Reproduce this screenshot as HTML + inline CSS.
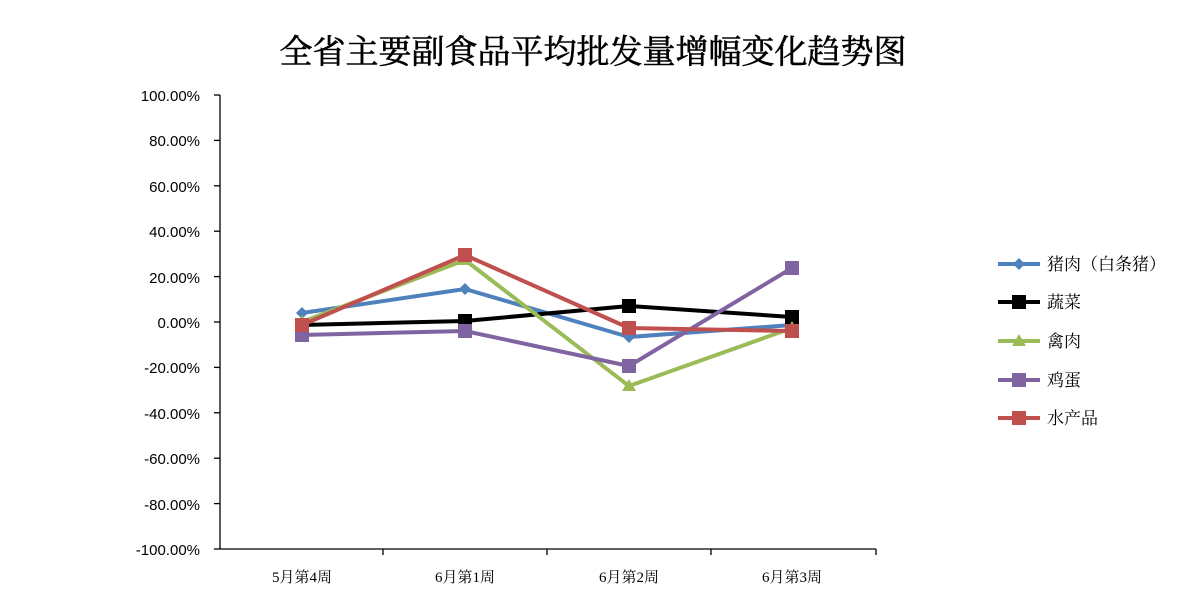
<!DOCTYPE html>
<html><head><meta charset="utf-8"><style>
body{margin:0;background:#fff;}
svg text{font-family:"Liberation Sans","Noto Sans CJK SC",sans-serif;}
svg text.s{font-family:"Liberation Serif","Noto Serif CJK SC",serif;}
</style></head><body>
<svg width="1196" height="610" xmlns="http://www.w3.org/2000/svg">
<rect width="1196" height="610" fill="#fff"/>
<text class="s" x="593" y="63" font-size="33" text-anchor="middle" fill="#000" stroke="#000" stroke-width="0.6">全省主要副食品平均批发量增幅变化趋势图</text>
<g stroke="#000" stroke-width="1.3">
<line x1="220" y1="95" x2="220" y2="549"/>
<line x1="220" y1="549" x2="876" y2="549"/>
<line x1="214" y1="95" x2="220" y2="95"/><line x1="214" y1="140.4" x2="220" y2="140.4"/><line x1="214" y1="185.8" x2="220" y2="185.8"/><line x1="214" y1="231.2" x2="220" y2="231.2"/><line x1="214" y1="276.6" x2="220" y2="276.6"/><line x1="214" y1="322" x2="220" y2="322"/><line x1="214" y1="367.4" x2="220" y2="367.4"/><line x1="214" y1="412.8" x2="220" y2="412.8"/><line x1="214" y1="458.2" x2="220" y2="458.2"/><line x1="214" y1="503.6" x2="220" y2="503.6"/><line x1="214" y1="549" x2="220" y2="549"/>
<line x1="383" y1="549" x2="383" y2="555"/><line x1="547" y1="549" x2="547" y2="555"/><line x1="711" y1="549" x2="711" y2="555"/><line x1="876" y1="549" x2="876" y2="555"/>
</g>
<g font-size="15" text-anchor="end" fill="#000">
<text x="200" y="101">100.00%</text><text x="200" y="146">80.00%</text><text x="200" y="192">60.00%</text><text x="200" y="237">40.00%</text><text x="200" y="283">20.00%</text><text x="200" y="328">0.00%</text><text x="200" y="373">-20.00%</text><text x="200" y="419">-40.00%</text><text x="200" y="464">-60.00%</text><text x="200" y="510">-80.00%</text><text x="200" y="555">-100.00%</text>
</g>
<g font-size="15" text-anchor="middle" fill="#000">
<text class="s" x="302" y="582">5月第4周</text><text class="s" x="465" y="582">6月第1周</text><text class="s" x="629" y="582">6月第2周</text><text class="s" x="792" y="582">6月第3周</text>
</g>
<g fill="none" stroke-width="4" stroke-linejoin="round">
<polyline stroke="#4f81bd" points="302,313 465,289 629,337 792,325"/>
<polyline stroke="#000" points="302,325 465,321 629,306 792,317"/>
<polyline stroke="#9bbb59" points="302,322 465,260 629,386 792,328"/>
<polyline stroke="#8064a2" points="302,335 465,331 629,366 792,268"/>
<polyline stroke="#c0504d" points="302,325 465,255 629,328 792,331"/>
</g>
<g fill="#4f81bd"><path d="M302,307l6,6-6,6-6-6z"/><path d="M465,283l6,6-6,6-6-6z"/><path d="M629,331l6,6-6,6-6-6z"/><path d="M792,319l6,6-6,6-6-6z"/></g>
<g fill="#000"><rect x="295" y="318" width="14" height="14"/><rect x="458" y="314" width="14" height="14"/><rect x="622" y="299" width="14" height="14"/><rect x="785" y="310" width="14" height="14"/></g>
<g fill="#9bbb59"><path d="M302,315l7,12h-14z"/><path d="M465,253l7,12h-14z"/><path d="M629,379l7,12h-14z"/><path d="M792,321l7,12h-14z"/></g>
<g fill="#8064a2"><rect x="295" y="328" width="14" height="14"/><rect x="458" y="324" width="14" height="14"/><rect x="622" y="359" width="14" height="14"/><rect x="785" y="261" width="14" height="14"/></g>
<g fill="#c0504d"><rect x="295" y="318" width="14" height="14"/><rect x="458" y="248" width="14" height="14"/><rect x="622" y="321" width="14" height="14"/><rect x="785" y="324" width="14" height="14"/></g>
<g stroke-width="4">
<line x1="998" y1="264" x2="1040" y2="264" stroke="#4f81bd"/><path d="M1019,258l6,6-6,6-6-6z" fill="#4f81bd"/>
<line x1="998" y1="302" x2="1040" y2="302" stroke="#000"/><rect x="1012" y="295" width="14" height="14" fill="#000"/>
<line x1="998" y1="341" x2="1040" y2="341" stroke="#9bbb59"/><path d="M1019,334l7,12h-14z" fill="#9bbb59"/>
<line x1="998" y1="380" x2="1040" y2="380" stroke="#8064a2"/><rect x="1012" y="373" width="14" height="14" fill="#8064a2"/>
<line x1="998" y1="418" x2="1040" y2="418" stroke="#c0504d"/><rect x="1012" y="411" width="14" height="14" fill="#c0504d"/>
</g>
<g font-size="17" fill="#000">
<text class="s" x="1047" y="270">猪肉（白条猪）</text><text class="s" x="1047" y="308">蔬菜</text><text class="s" x="1047" y="347">禽肉</text><text class="s" x="1047" y="386">鸡蛋</text><text class="s" x="1047" y="424">水产品</text>
</g>
</svg>
</body></html>
